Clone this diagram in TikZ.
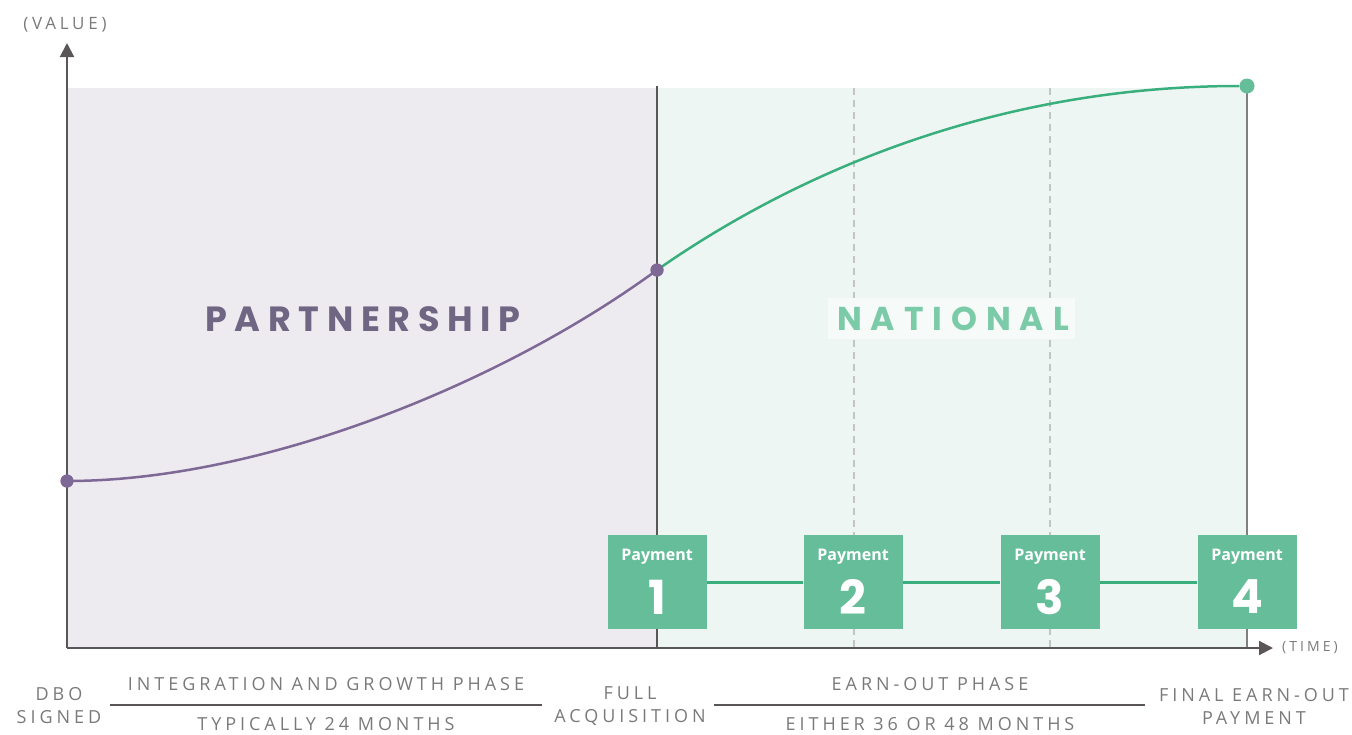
\documentclass[tikz,border=0pt]{standalone}
\usepackage{fontspec}
\setmainfont{Open Sans}
\newfontfamily\labfont[LetterSpace=22]{Open Sans}
\newfontfamily\headfont[LetterSpace=22]{Poppins}
\newfontfamily\natfont[LetterSpace=27]{Poppins}
\newfontfamily\numfont{Poppins}
\usetikzlibrary{arrows.meta}

\definecolor{purplebg}{HTML}{EDEAF0}
\definecolor{greenbg}{HTML}{EEF6F3}
\definecolor{purpleline}{HTML}{7E6896}
\definecolor{purpletxt}{HTML}{6E6682}
\definecolor{greenline}{HTML}{3AAF7E}
\definecolor{greenbox}{HTML}{66BD9A}
\definecolor{greentxt}{HTML}{7CCBA8}
\definecolor{namebg}{HTML}{F6FAF9}
\definecolor{axisgray}{HTML}{5A5556}
\definecolor{labgray}{HTML}{7A7A7A}
\definecolor{dashgray}{HTML}{C4C4C4}

\tikzset{
  axis/.style={draw=axisgray, line width=2pt, -{Triangle[length=14pt,width=14pt]}},
  phaseline/.style={draw=axisgray, line width=1.2pt},
  dashmark/.style={draw=dashgray, line width=1.2pt, dash pattern=on 7pt off 5pt},
  pdot/.style={circle, fill=purpleline, inner sep=0pt, minimum size=13pt},
  gdot/.style={circle, fill=greenbox, inner sep=0pt, minimum size=15pt},
  paybox/.style={rectangle, fill=greenbox, inner sep=0pt, minimum width=99pt, minimum height=94pt},
  paylabel/.style={text=white, font=\fontsize{16}{18}\selectfont\bfseries, inner sep=0pt},
  paynum/.style={text=white, font=\numfont\fontsize{47}{47}\selectfont\bfseries, inner sep=0pt},
  lab/.style={text=labgray, font=\labfont\fontsize{18}{23}\selectfont, align=center, inner sep=0pt},
  axlab/.style={text=labgray, inner sep=0pt},
}

\begin{document}
\begin{tikzpicture}[x=1pt, y=-1pt]
\useasboundingbox (0,0) rectangle (1352,734);

% phase backgrounds
\fill[purplebg] (67,88) rectangle (657,648);
\fill[greenbg] (657,88) rectangle (1247,648);

% dashed payment markers
\draw[dashmark] (854,88) -- (854,648);
\draw[dashmark] (1050,88) -- (1050,648);

% phase borders
\draw[draw=axisgray, line width=1.5pt] (657,86) -- (657,648);
\draw[draw=gray, line width=2pt] (1247,86) -- (1247,648);

% axes
\coordinate (origin) at (67,648);
\coordinate (ytip) at (67,43);
\coordinate (xtip) at (1273,648);
\draw[axis] (origin) -- (ytip);
\draw[axis] (origin) -- (xtip);
\node[axlab, font=\labfont\fontsize{17}{18}\selectfont] (vlab) at (65,25) {(VALUE)};
\node[axlab, font=\labfont\fontsize{14}{16}\selectfont] (tlab) at (1310,648) {(TIME)};

% phase names
\node[text=purpletxt, font=\headfont\fontsize{35}{40}\selectfont\bfseries] (partner) at (363,319) {PARTNERSHIP};
\node[fill=namebg, minimum width=247pt, minimum height=41pt, inner sep=0pt] (natbox) at (951,318) {};
\node[text=greentxt, font=\natfont\fontsize{33}{36}\selectfont\bfseries] (national) at (953,319) {NATIONAL};

% value points and curves
\node[pdot] (p0) at (67,481) {};
\node[pdot] (p1) at (657,270) {};
\node[gdot] (p2) at (1247,86) {};
\draw[purpleline, line width=2.5pt] (p0.center) .. controls (260,481) and (500,385) .. (p1.center);
\draw[greenline, line width=2.5pt] (p1.center) .. controls (800,170) and (1000,86) .. (p2.west);
\node[pdot] at (p0) {};
\node[pdot] at (p1) {};

% payments
\node[paybox] (pay1) at (657,582) {};
\node[paybox] (pay2) at (853,582) {};
\node[paybox] (pay3) at (1050,582) {};
\node[paybox] (pay4) at (1247,582) {};
\draw[greenline, line width=3pt] (pay1) -- (pay2);
\draw[greenline, line width=3pt] (pay2) -- (pay3);
\draw[greenline, line width=3pt] (pay3) -- (pay4);
\foreach \i/\x in {1/657, 2/853, 3/1050, 4/1247} {
  \node[paylabel] (pt\i) at (\x,557) {Payment};
  \node[paynum] (pn\i) at (\x,597) {\i};
}

% timeline labels
\node[lab] (dbo) at (59,706) {DBO\\SIGNED};
\node[lab] (full) at (630,706) {FULL\\ACQUISITION};
\node[lab] (final) at (1254,706) {FINAL EARN-OUT\\PAYMENT};
\coordinate (ia) at (110,705);
\coordinate (ib) at (542,705);
\coordinate (ea) at (714,705);
\coordinate (eb) at (1145,705);
\draw[phaseline] (ia) -- (ib);
\draw[phaseline] (ea) -- (eb);
\node[lab] (intg) at (326,684) {INTEGRATION AND GROWTH PHASE};
\node[lab] (int24) at (326,724) {TYPICALLY 24 MONTHS};
\node[lab] (earn) at (930,684) {EARN-OUT PHASE};
\node[lab] (earnm) at (930,724) {EITHER 36 OR 48 MONTHS};
\end{tikzpicture}
\end{document}
